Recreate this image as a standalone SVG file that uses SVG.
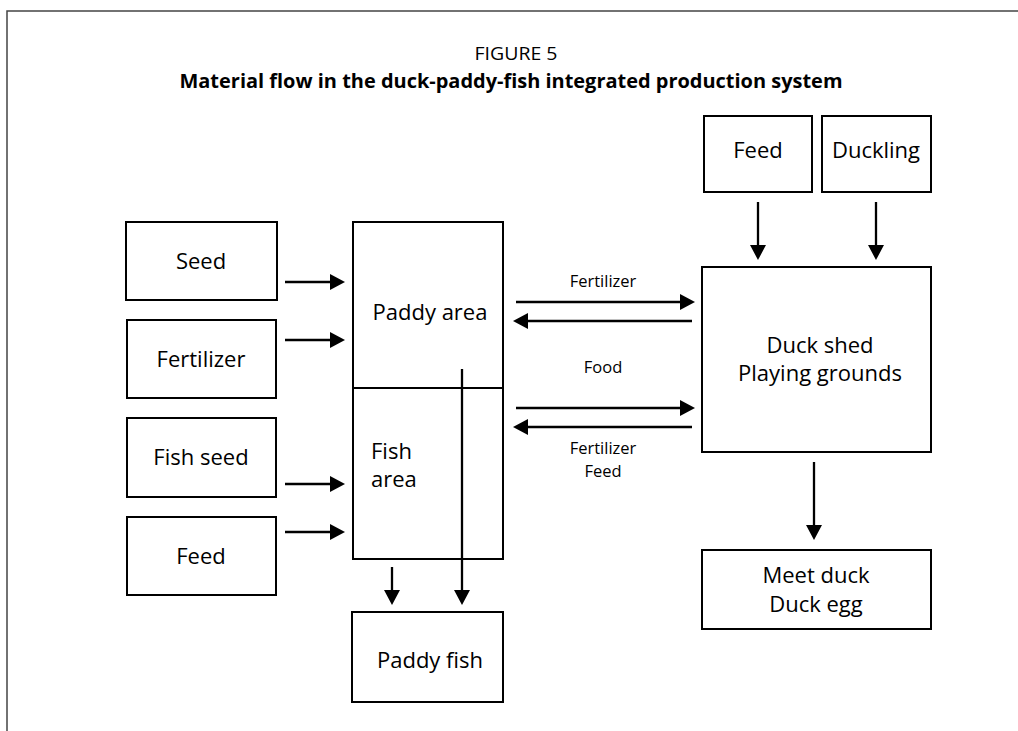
<svg xmlns="http://www.w3.org/2000/svg" width="1018" height="731" viewBox="0 0 1018 731">
<defs>
<marker id="ah" markerUnits="userSpaceOnUse" markerWidth="16" markerHeight="17" refX="2" refY="8" orient="auto" viewBox="0 0 16 16">
<path d="M0,0 L15,8 L0,16 Z" fill="#000"/>
</marker>
<style>
.box{fill:#fff;stroke:#000;stroke-width:2}
.t{font-family:"Open Sans","Noto Sans","Liberation Sans",sans-serif;font-size:22px;fill:#000;text-anchor:middle}
.s{font-family:"Open Sans","Noto Sans","Liberation Sans",sans-serif;font-size:16.5px;fill:#000;text-anchor:middle}
.c{fill:none;stroke:#000;stroke-width:2.3;marker-end:url(#ah)}
</style>
</defs>
<rect width="1018" height="731" fill="#fff"/>
<path d="M7,731 V11 H1018" fill="none" stroke="#444" stroke-width="1.5"/>
<g id="title">
<text x="516" y="60" style="font-family:'Open Sans','Noto Sans','Liberation Sans',sans-serif;font-size:18px;text-anchor:middle" textLength="83" lengthAdjust="spacingAndGlyphs">FIGURE 5</text>
<text x="511" y="88" style="font-family:'Open Sans','Noto Sans','Liberation Sans',sans-serif;font-size:20px;font-weight:bold;text-anchor:middle" textLength="663" lengthAdjust="spacingAndGlyphs">Material flow in the duck-paddy-fish integrated production system</text>
</g>
<g id="seed"><rect class="box" x="126" y="222" width="151" height="78"/><text class="t" x="201" y="269">Seed</text></g>
<g id="fertilizer"><rect class="box" x="127" y="320" width="149" height="78"/><text class="t" x="201" y="367">Fertilizer</text></g>
<g id="fish-seed"><rect class="box" x="127" y="418" width="149" height="79"/><text class="t" x="201" y="465">Fish seed</text></g>
<g id="fish-feed"><rect class="box" x="127" y="517" width="149" height="78"/><text class="t" x="201" y="564">Feed</text></g>
<g id="paddy-area"><rect class="box" x="353" y="222" width="150" height="166"/><text class="t" x="430" y="320">Paddy area</text></g>
<g id="fish-area"><rect class="box" x="353" y="388" width="150" height="171"/><text class="t" x="371" y="459" style="text-anchor:start">Fish</text><text class="t" x="371" y="487" style="text-anchor:start">area</text></g>
<g id="paddy-fish"><rect class="box" x="352" y="612" width="151" height="90"/><text class="t" x="430" y="668">Paddy fish</text></g>
<g id="duck-feed"><rect class="box" x="704" y="116" width="108" height="76"/><text class="t" x="758" y="158">Feed</text></g>
<g id="duckling"><rect class="box" x="822" y="116" width="109" height="76"/><text class="t" x="876" y="158">Duckling</text></g>
<g id="duck-shed"><rect class="box" x="702" y="267" width="229" height="185"/><text class="t" x="820" y="353">Duck shed</text><text class="t" x="820" y="381">Playing grounds</text></g>
<g id="products"><rect class="box" x="702" y="550" width="229" height="79"/><text class="t" x="816" y="583">Meet duck</text><text class="t" x="816" y="612">Duck egg</text></g>
<g id="connectors">
<path class="c" d="M285,282 H332"/>
<path class="c" d="M285,340 H332"/>
<path class="c" d="M285,484 H332"/>
<path class="c" d="M285,532 H332"/>
<path class="c" d="M516,302 H682"/>
<path class="c" d="M692,321 H526"/>
<path class="c" d="M516,408 H682"/>
<path class="c" d="M692,427 H526"/>
<path class="c" d="M758,202 V247"/>
<path class="c" d="M876,202 V247"/>
<path class="c" d="M814,462 V527"/>
<path class="c" d="M392,567 V592"/>
<path class="c" d="M462,369 V592"/>
<text class="s" x="603" y="287">Fertilizer</text>
<text class="s" x="603" y="373">Food</text>
<text class="s" x="603" y="454">Fertilizer</text>
<text class="s" x="603" y="477">Feed</text>
</g>
</svg>
